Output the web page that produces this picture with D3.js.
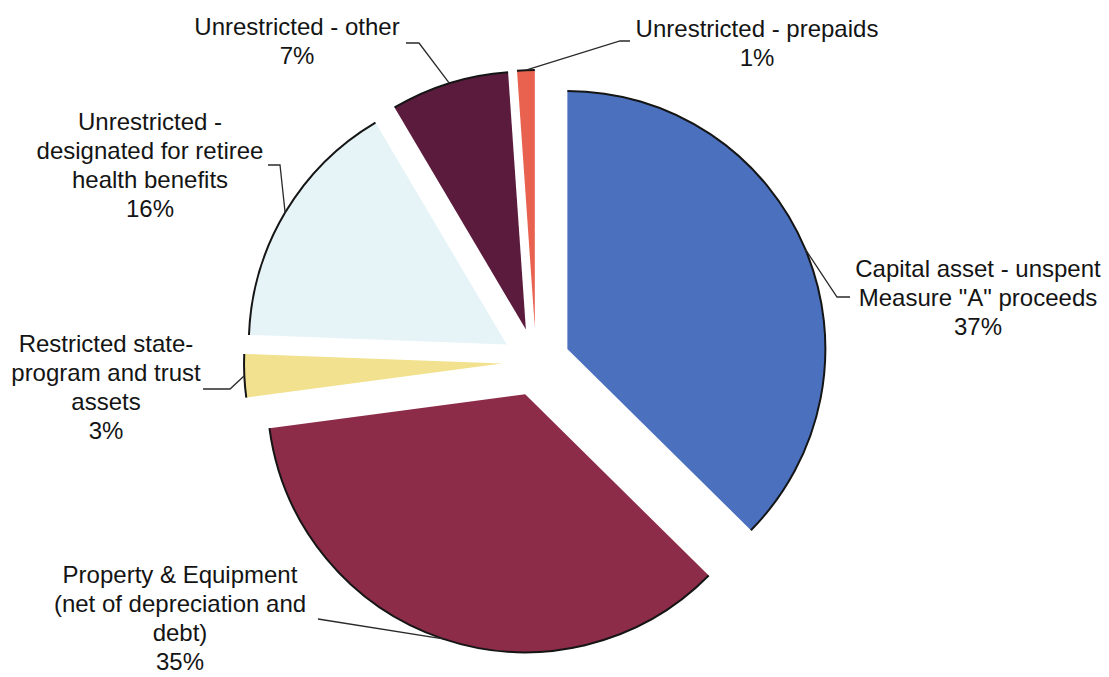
<!DOCTYPE html>
<meta charset="utf-8">
<style>
  html, body { margin: 0; padding: 0; background: #fff; overflow: hidden; }
  .label { font: normal 24px "Liberation Sans", Arial, sans-serif; fill: #141414; }
  .leader { fill: none; stroke: #2a2a2a; stroke-width: 1.3px; }
  .rim { fill: none; stroke: #151515; stroke-width: 2px; }
</style>
<svg></svg>
<script src="https://d3js.org/d3.v7.min.js"></script>
<script>

var width = 1109, height = 677;

// slices, clockwise from 12 o'clock
var categories = ["Capital asset", "Property & Equipment", "Restricted", "Retiree health", "Unrestricted other", "Prepaids"];
var shares = [37.4, 35.49, 2.7, 15.9, 7.4, 1.1];
var colours = ["#4b70bd", "#8c2c48", "#f2e28f", "#e6f4f8", "#5b1b3d", "#e8624f"];
var labelLines = [
  ["Capital asset - unspent", "Measure \"A\" proceeds"],
  ["Property & Equipment", "(net of depreciation and", "debt)"],
  ["Restricted state-", "program and trust", "assets"],
  ["Unrestricted -", "designated for retiree", "health benefits"],
  ["Unrestricted - other"],
  ["Unrestricted - prepaids"]
];

// label placement: text centre x, first baseline, leader elbow and end
var labelPos = [
  {x: 978, y: 277, elbow: [837, 297], end: [850, 297]},
  {x: 180, y: 583, elbow: [318, 619], end: [318, 619]},
  {x: 106, y: 352, elbow: [230, 389], end: [203, 389]},
  {x: 150, y: 130, elbow: [280, 165], end: [268, 165]},
  {x: 297, y: 35, elbow: [419, 43], end: [406, 43]},
  {x: 757, y: 37, elbow: [620, 41], end: [630, 41]}
];

var cx = 536, cy = 362, radius = 258, explode = 34, lineH = 29;

var svg = d3.select("svg")
    .attr("width", width)
    .attr("height", height)
    .attr("viewBox", "0 0 " + width + " " + height);

var pie = d3.pie().sort(null).value(function(d) { return d; });
var arcs = pie(shares);

var arc = d3.arc().innerRadius(0).outerRadius(radius);
var rim = d3.arc().innerRadius(radius).outerRadius(radius);

function offset(d) {
  var a = (d.startAngle + d.endAngle) / 2;
  return [cx + explode * Math.sin(a), cy - explode * Math.cos(a)];
}

var slices = svg.append("g").selectAll("g")
    .data(arcs)
  .enter().append("g")
    .attr("transform", function(d) { var o = offset(d); return "translate(" + o[0] + "," + o[1] + ")"; });

slices.append("path")
    .attr("d", arc)
    .attr("fill", function(d, i) { return colours[i]; });

slices.append("path")
    .attr("class", "rim")
    .attr("d", rim);

// leader lines start on the rim at the mid angle
svg.append("g").selectAll("path")
    .data(arcs)
  .enter().append("path")
    .attr("class", "leader")
    .attr("d", function(d, i) {
      var o = offset(d), a = (d.startAngle + d.endAngle) / 2;
      var p = [o[0] + radius * Math.sin(a), o[1] - radius * Math.cos(a)];
      var lp = labelPos[i];
      return d3.line()([p, lp.elbow, lp.end]);
    });

var labels = svg.append("g").selectAll("text")
    .data(arcs)
  .enter().append("text")
    .attr("class", "label")
    .attr("text-anchor", "middle")
    .attr("x", function(d, i) { return labelPos[i].x; })
    .attr("y", function(d, i) { return labelPos[i].y; });

labels.each(function(d, i) {
  var lines = labelLines[i].concat([Math.round(d.data) + "%"]);
  d3.select(this).selectAll("tspan")
      .data(lines)
    .enter().append("tspan")
      .attr("x", labelPos[i].x)
      .attr("dy", function(t, j) { return j === 0 ? 0 : lineH; })
      .text(function(t) { return t; });
});
</script>
